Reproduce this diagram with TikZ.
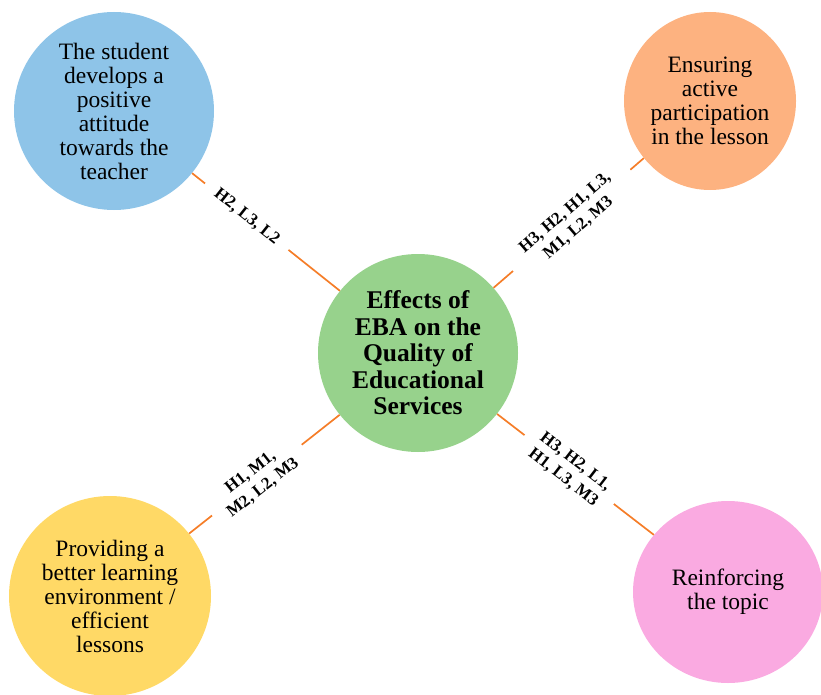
\documentclass[tikz,border=0pt]{standalone}
\usepackage{fontspec}
\setmainfont{Liberation Serif}
\usetikzlibrary{shapes.geometric}
\definecolor{bubbleblue}{RGB}{142,196,232}
\definecolor{bubblepeach}{RGB}{253,178,128}
\definecolor{hubgreen}{RGB}{151,210,140}
\definecolor{bubbleyellow}{RGB}{255,217,102}
\definecolor{bubblepink}{RGB}{250,170,225}
\definecolor{linkorange}{RGB}{245,125,40}

\begin{document}
\begin{tikzpicture}[x=1pt,y=-1pt,
    bubble/.style={ellipse,inner sep=0pt,align=center,
      font=\fontsize{23.5}{24}\selectfont},
    hub/.style={bubble,fill=hubgreen,
      font=\fontsize{25.5}{26.5}\selectfont\bfseries},
    link/.style={draw=linkorange,line width=1.7pt},
    tag/.style={sloped,fill=white,inner xsep=14pt,inner ysep=1pt,
      align=center,font=\fontsize{17}{20}\selectfont\bfseries}]
  \useasboundingbox (0,0) rectangle (821,695);
  % hub and the four effects
  \node[hub,minimum width=200pt,minimum height=198pt] (eba) at (418,353)
    {Effects of\\EBA on the\\Quality of\\Educational\\Services};
  \node[bubble,fill=bubbleblue,minimum width=200pt,minimum height=198pt]
    (attitude) at (114,111)
    {The student\\develops a\\positive\\attitude\\towards the\\teacher};
  \node[bubble,fill=bubblepeach,minimum width=172pt,minimum height=178pt]
    (participation) at (710,101)
    {Ensuring\\active\\participation\\in the lesson};
  \node[bubble,fill=bubbleyellow,minimum width=202pt,minimum height=200pt]
    (environment) at (110,596)
    {Providing a\\better learning\\environment /\\efficient\\lessons};
  \node[bubble,fill=bubblepink,minimum width=190pt,minimum height=182pt]
    (topic) at (728,592)
    {Reinforcing\\the topic};
  % links with their codes
  \draw[link] (eba) -- node[tag,pos=0.63] {H2, L3, L2} (attitude);
  \draw[link] (eba) -- node[tag,pos=0.52,inner xsep=20pt]
    {H3, H2, H1, L3,\\M1, L2, M3} (participation);
  \draw[link] (eba) -- node[tag,pos=0.55] {H1, M1,\\M2, L2, M3} (environment);
  \draw[link] (eba) -- node[tag,pos=0.46] {H3, H2, L1,\\H1, L3, M3} (topic);
\end{tikzpicture}
\end{document}
